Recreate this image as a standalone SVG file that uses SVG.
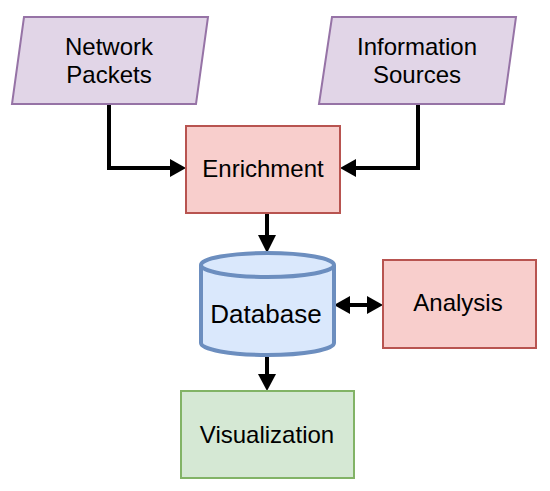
<svg xmlns="http://www.w3.org/2000/svg" width="550" height="491" viewBox="0 0 550 491">
<style>
text{font-family:"Liberation Sans",Arial,sans-serif;font-size:24px;fill:#000;text-anchor:middle}
.io{fill:#e1d5e7;stroke:#9673a6;stroke-width:2}
.proc{fill:#f8cecc;stroke:#b85450;stroke-width:2}
.db{fill:#dae8fc;stroke:#6c8ebf;stroke-width:4}
.vis{fill:#d5e8d4;stroke:#82b366;stroke-width:2}
.edge{fill:none;stroke:#000;stroke-width:4}
.head{fill:#000;stroke:none}
</style>
<g id="connectors">
<path class="edge" d="M109,104 V168 H172"/>
<polygon class="head" points="186,168 170,159 170,177"/>
<path class="edge" d="M418,104 V168 H354"/>
<polygon class="head" points="340,168 356,159 356,177"/>
<path class="edge" d="M267,213 V237"/>
<polygon class="head" points="267,253 258,235 276,235"/>
<path class="edge" d="M348,305 H369"/>
<polygon class="head" points="334,305 350,296 350,314"/>
<polygon class="head" points="383,305 367,296 367,314"/>
<path class="edge" d="M267,356 V377"/>
<polygon class="head" points="267,391 258,374 276,374"/>
</g>
<g id="network-packets">
<polygon class="io" points="24,17 208,17 196,104 12,104"/>
<text x="109" y="55">Network</text>
<text x="109" y="83">Packets</text>
</g>
<g id="information-sources">
<polygon class="io" points="332,17 516,17 504,104 319,104"/>
<text x="417" y="55">Information</text>
<text x="417" y="83">Sources</text>
</g>
<g id="enrichment">
<rect class="proc" x="186" y="126" width="154" height="87"/>
<text x="263" y="177">Enrichment</text>
</g>
<g id="database">
<path class="db" d="M201,265 V343 A66.5,12 0 0 0 334,343 V265"/>
<ellipse class="db" cx="267.5" cy="265" rx="66.5" ry="12"/>
<text x="266" y="323" style="font-size:26px">Database</text>
</g>
<g id="analysis">
<rect class="proc" x="383" y="260" width="153" height="88"/>
<text x="458" y="311">Analysis</text>
</g>
<g id="visualization">
<rect class="vis" x="181" y="391" width="173" height="87"/>
<text x="267" y="443">Visualization</text>
</g>
</svg>
